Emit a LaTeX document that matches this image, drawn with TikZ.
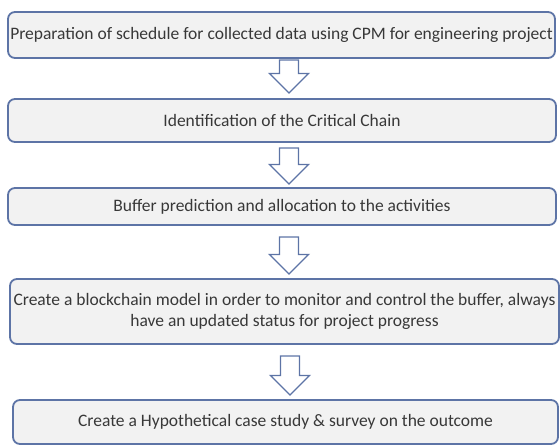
\documentclass[tikz,border=0pt]{standalone}
\usepackage{fontspec}
\setmainfont{Carlito}
\usetikzlibrary{calc}
\definecolor{frame}  {HTML}{5D74A6}
\definecolor{panel}  {HTML}{F2F2F2}
\definecolor{ink}    {HTML}{383838}

\tikzset{
  stepbox/.style={draw=frame, fill=panel, line width=1.8pt, rounded corners=7pt,
    text=ink, font=\fontsize{17.5}{21}\selectfont, align=center, inner sep=0pt},
  hollowline/.style={draw=frame, fill=white, line width=1.3pt, line join=miter},
}

% hollow block arrow pointing down, from the middle of its top edge (#1) to its tip (#2)
\newcommand\hollowarrow[2]{%
  \draw[hollowline] ($(#1)+(-9.5,0)$) -- ($(#1)+(9.5,0)$) -- ($(#2)+(9.5,-19.5)$)
    -- ($(#2)+(19.5,-19.5)$) -- (#2) -- ($(#2)+(-19.5,-19.5)$)
    -- ($(#2)+(-9.5,-19.5)$) -- cycle;}

\begin{document}
\begin{tikzpicture}[x=1pt, y=-1pt]
    % --- the five steps, top to bottom ----------------------------------------
    \node[stepbox, minimum width=547pt, minimum height=46pt] (prep) at (281.5, 35)
      {Preparation of schedule for collected data using CPM for engineering project};
    \node[stepbox, minimum width=548pt, minimum height=43pt] (chain) at (282, 120.5)
      {Identification of the Critical Chain};
    \node[stepbox, minimum width=548pt, minimum height=37pt] (buffer) at (282, 206.5)
      {Buffer prediction and allocation to the activities};
    \node[stepbox, minimum width=549pt, minimum height=65pt] (model) at (284.5, 311.5)
      {Create a blockchain model in order to monitor and control the buffer, always\\
       have an updated status for project progress};
    \node[stepbox, minimum width=545pt, minimum height=44pt] (study) at (285.5, 422)
      {Create a Hypothetical case study \& survey on the outcome};

    % --- hollow arrows between the steps --------------------------------------
    \coordinate (top1) at (289, 60);   \coordinate (tip1) at (289, 93);
    \coordinate (top2) at (289, 148);  \coordinate (tip2) at (289, 184);
    \coordinate (top3) at (289, 237);  \coordinate (tip3) at (289, 274);
    \coordinate (top4) at (290, 356);  \coordinate (tip4) at (290, 395);
    \hollowarrow{top1}{tip1}
    \hollowarrow{top2}{tip2}
    \hollowarrow{top3}{tip3}
    \hollowarrow{top4}{tip4}

    \useasboundingbox (0, 0) rectangle (560, 442);
\end{tikzpicture}
\end{document}
